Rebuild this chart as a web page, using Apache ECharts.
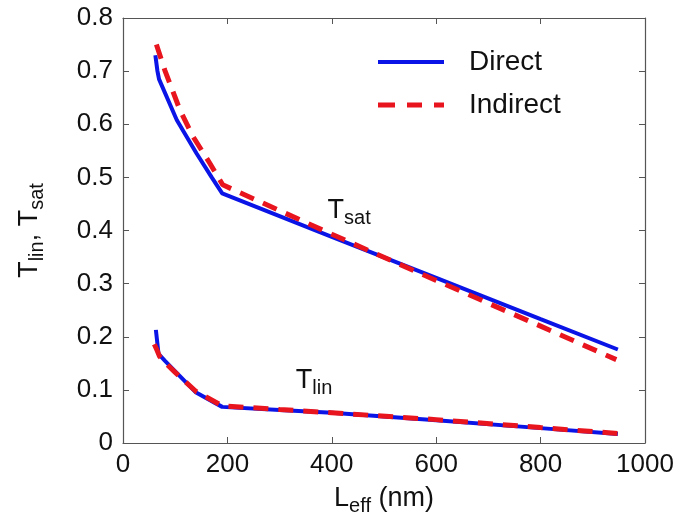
<!DOCTYPE html>
<html>
<head>
<meta charset="utf-8">
<script src="https://cdn.jsdelivr.net/npm/echarts@6/dist/echarts.min.js"></script>
<style>html,body{margin:0;padding:0;background:#fff}#c{width:690px;height:525px}</style>
</head>
<body>
<div id="c"></div>
<script>
// Data
var xTicks = [0, 200, 400, 600, 800, 1000];
var yTicks = [0, 0.1, 0.2, 0.3, 0.4, 0.5, 0.6, 0.7, 0.8];

var tsatDirectX = [62, 66, 69, 103, 141, 170, 190, 400, 600, 800, 948];
var tsatDirectY = [0.730, 0.700, 0.685, 0.608, 0.545, 0.500, 0.470, 0.388, 0.311, 0.233, 0.176];

var tsatIndirectX = [64, 80, 109, 134, 166, 191, 400, 600, 800, 945];
var tsatIndirectY = [0.750, 0.702, 0.627, 0.577, 0.527, 0.486, 0.393, 0.306, 0.220, 0.157];

var tlinDirectX = [63, 65, 68, 80, 100, 140, 190, 300, 400, 600, 800, 948];
var tlinDirectY = [0.213, 0.195, 0.168, 0.155, 0.135, 0.095, 0.068, 0.062, 0.057, 0.043, 0.028, 0.017];

var tlinIndirectX = [60, 65, 70, 80, 100, 140, 190, 300, 400, 600, 800, 948];
var tlinIndirectY = [0.186, 0.175, 0.163, 0.152, 0.133, 0.097, 0.070, 0.063, 0.057, 0.044, 0.029, 0.018];

var seriesNames = ['Direct', 'Indirect'];

function pairs(xs, ys) { return xs.map(function (x, i) { return [x, ys[i]]; }); }

var FONT = 'Liberation Sans, Arial, sans-serif';
var axisCol = '#555';
var blue = '#0a14e6';
var red = '#e8141e';

var chart = echarts.init(document.getElementById('c'));

var richName = {
  b: { fontSize: 27, fontFamily: FONT, color: '#111' },
  s: { fontSize: 20, fontFamily: FONT, color: '#111', padding: [15, 0, 0, 0] }
};

function mkAxis(base) {
  return Object.assign({
    type: 'value',
    axisLine: { show: true, onZero: false, lineStyle: { color: axisCol, width: 1.2 } },
    axisTick: { show: true, inside: true, length: 6, lineStyle: { color: axisCol } },
    splitLine: { show: false }
  }, base);
}

var dirLine = { color: blue, width: 4, type: 'solid' };
var indLine = { color: red, width: 5, type: [15, 10] };

chart.setOption({
  animation: false,
  backgroundColor: '#fff',
  grid: { left: 123, right: 45, top: 18, bottom: 82 },
  legend: {
    data: [
      { name: seriesNames[0], icon: 'path://M0,0H66V4H0Z' },
      { name: seriesNames[1], icon: 'path://M0,0H17V5H0Z M29,0H44V5H29Z M56,0H66V5H56Z' }
    ],
    orient: 'vertical',
    left: 373,
    top: 42,
    itemWidth: 66,
    itemHeight: 5,
    itemGap: 13,
    textStyle: { fontFamily: FONT, fontSize: 28, lineHeight: 30, color: '#111', padding: [0, 0, 0, 20] }
  },
  xAxis: [
    mkAxis({
      min: 0, max: 1000, interval: 200, position: 'bottom',
      name: '{b|L}{s|eff}{b| (nm)}', nameLocation: 'middle', nameGap: 38,
      nameTextStyle: { rich: richName },
      axisLabel: { fontFamily: FONT, fontSize: 26, color: '#111', margin: 9,
        formatter: function (v) { return xTicks.indexOf(v) >= 0 ? String(v) : ''; } }
    }),
    mkAxis({ min: 0, max: 1000, interval: 200, position: 'top', axisLabel: { show: false } })
  ],
  yAxis: [
    mkAxis({
      min: 0, max: 0.8, interval: 0.1, position: 'left',
      name: '{b|T}{s|lin}{b|, T}{s|sat}', nameLocation: 'middle', nameGap: 76,
      nameTextStyle: { rich: richName },
      axisLabel: { fontFamily: FONT, fontSize: 26, color: '#111', margin: 10,
        formatter: function (v) {
          var r = Math.round(v * 10) / 10;
          return yTicks.indexOf(r) >= 0 ? (r === 0 ? '0' : r.toFixed(1)) : '';
        } }
    }),
    mkAxis({ min: 0, max: 0.8, interval: 0.1, position: 'right', axisLabel: { show: false } })
  ],
  series: [
    { name: 'Direct', type: 'line', xAxisIndex: 0, yAxisIndex: 0, symbol: 'none', lineStyle: dirLine, itemStyle: { color: blue }, data: pairs(tsatDirectX, tsatDirectY), z: 2 },
    { name: 'Indirect', type: 'line', xAxisIndex: 0, yAxisIndex: 0, symbol: 'none', lineStyle: indLine, itemStyle: { color: red }, data: pairs(tsatIndirectX, tsatIndirectY), z: 3 },
    { name: 'Direct', type: 'line', xAxisIndex: 0, yAxisIndex: 0, symbol: 'none', lineStyle: dirLine, itemStyle: { color: blue }, data: pairs(tlinDirectX, tlinDirectY), z: 2 },
    { name: 'Indirect', type: 'line', xAxisIndex: 0, yAxisIndex: 0, symbol: 'none', lineStyle: indLine, itemStyle: { color: red }, data: pairs(tlinIndirectX, tlinIndirectY), z: 3 }
  ]
});

// Curve annotations placed in data coordinates
var annotations = [
  { text: '{b|T}{s|sat}', at: [392, 0.47] },
  { text: '{b|T}{s|lin}', at: [331, 0.15] }
];
chart.setOption({
  graphic: annotations.map(function (a) {
    var p = chart.convertToPixel({ gridIndex: 0 }, a.at);
    return { type: 'text', x: p[0], y: p[1], z: 10,
      style: { text: a.text, rich: richName, fill: '#111' } };
  })
});
</script>
</body>
</html>
